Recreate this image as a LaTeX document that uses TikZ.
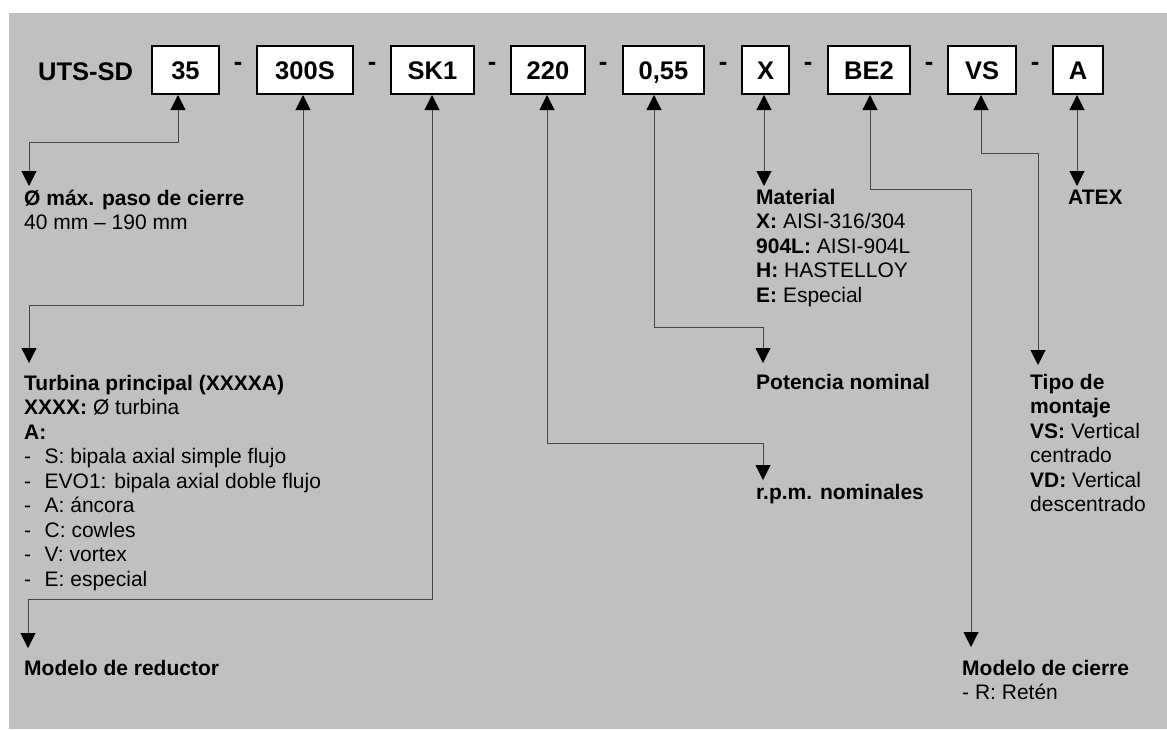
\documentclass[tikz,border=0pt]{standalone}
\usepackage{fontspec}
\setmainfont{Liberation Sans}
\usetikzlibrary{arrows.meta}
\definecolor{bgc}{HTML}{C0C0C0}
\definecolor{linec}{HTML}{454545}
\begin{document}
\begin{tikzpicture}[x=1pt,y=-1pt,
  box/.style={draw=black,line width=2pt,fill=white,font=\fontsize{25.5}{30}\selectfont\bfseries,minimum height=48pt,inner sep=0pt,text height=18.3pt,text depth=0pt,anchor=center},
  lab/.style={anchor=north west,inner sep=0pt,align=left,font=\fontsize{21}{24.5}\selectfont},
  sep/.style={anchor=base,inner sep=0pt,font=\fontsize{25.5}{30}\selectfont\bfseries},
  conn/.style={draw=linec,line width=1pt,{Triangle[width=15pt,length=15pt,color=black]}-{Triangle[width=15pt,length=15pt,color=black]}}
]
\useasboundingbox (0,0) rectangle (1167,729);
\fill[bgc] (9,13) rectangle (1167,729);

% code line
\node[sep,anchor=base west] (uts) at (38,80) {UTS-SD};
\node[box,minimum width=67pt] (b35) at (185.5,70) {35};
\node[box,minimum width=96pt] (b300) at (305,70) {300S};
\node[box,minimum width=83pt] (bSK) at (432.5,70) {SK1};
\node[box,minimum width=74pt] (b220) at (548,70) {220};
\node[box,minimum width=81pt] (b055) at (663.5,70) {0,55};
\node[box,minimum width=47pt] (bX) at (765.5,70) {X};
\node[box,minimum width=82pt] (bBE) at (869,70) {BE2};
\node[box,minimum width=68pt] (bVS) at (982,70) {VS};
\node[box,minimum width=50pt] (bA) at (1078,70) {A};

\node[sep] (d1) at (238,70) {-};
\node[sep] (d2) at (372,70) {-};
\node[sep] (d3) at (492,70) {-};
\node[sep] (d4) at (603,70) {-};
\node[sep] (d5) at (723,70) {-};
\node[sep] (d6) at (808,70) {-};
\node[sep] (d7) at (929,70) {-};
\node[sep] (d8) at (1035,70) {-};

% labels
\node[lab] (lab35) at (24,187.85) {\strut\textbf{Ø máx. paso de cierre}\\40 mm – 190 mm};
\node[lab] (labT) at (24,372.85) {\strut\textbf{Turbina principal (XXXXA)}\\
  \textbf{XXXX:} Ø turbina\\
  \textbf{A:}\\
  \makebox[20.5pt][l]{-}S: bipala axial simple flujo\\
  \makebox[20.5pt][l]{-}EVO1: bipala axial doble flujo\\
  \makebox[20.5pt][l]{-}A: áncora\\
  \makebox[20.5pt][l]{-}C: cowles\\
  \makebox[20.5pt][l]{-}V: vortex\\
  \makebox[20.5pt][l]{-}E: especial};
\node[lab] (labRed) at (24,657.85) {\strut\textbf{Modelo de reductor}};
\node[lab] (labMat) at (756,186.85) {\strut\textbf{Material}\\
  \textbf{X:} AISI-316/304\\
  \textbf{904L:} AISI-904L\\
  \textbf{H:} HASTELLOY\\
  \textbf{E:} Especial};
\node[lab] (labPot) at (756,371.85) {\strut\textbf{Potencia nominal}};
\node[lab] (labRpm) at (756,481.85) {\strut\textbf{r.p.m. nominales}};
\node[lab] (labATEX) at (1068,186.85) {\strut\textbf{ATEX}};
\node[lab] (labTipo) at (1030,371.85) {\strut\textbf{Tipo de}\\
  \textbf{montaje}\\
  \textbf{VS:} Vertical\\
  centrado\\
  \textbf{VD:} Vertical\\
  descentrado};
\node[lab] (labCierre) at (962,657.85) {\strut\textbf{Modelo de cierre}\\- R: Retén};

% connectors
\draw[conn] ([xshift=-7.5pt]b35.south) -- ++(0,47) -| ([xshift=5pt,yshift=1.85pt]lab35.north west);
\draw[conn] ([xshift=-2pt]b300.south) -- ++(0,210) -| ([xshift=5pt,yshift=9.85pt]labT.north west);
\draw[conn] ([xshift=-0.5pt]bSK.south) -- ++(0,504) -| ([xshift=4pt,yshift=9.85pt]labRed.north west);
\draw[conn] ([xshift=-1pt]b220.south) -- ++(0,348) -| ([xshift=7pt,yshift=1.85pt]labRpm.north west);
\draw[conn] ([xshift=-9.5pt]b055.south) -- ++(0,232) -| ([xshift=7pt,yshift=8.85pt]labPot.north west);
\draw[conn] ([xshift=-1.5pt]bX.south) -- ([xshift=8pt,yshift=0.85pt]labMat.north west);
\draw[conn] ([xshift=1pt]bBE.south) -- ++(0,94) -| ([xshift=9pt,yshift=10.85pt]labCierre.north west);
\draw[conn] ([xshift=-1pt]bVS.south) -- ++(0,58) -| ([xshift=8pt,yshift=6.85pt]labTipo.north west);
\draw[conn] ([xshift=-1pt]bA.south) -- ([xshift=9pt,yshift=0.85pt]labATEX.north west);
\end{tikzpicture}
\end{document}
